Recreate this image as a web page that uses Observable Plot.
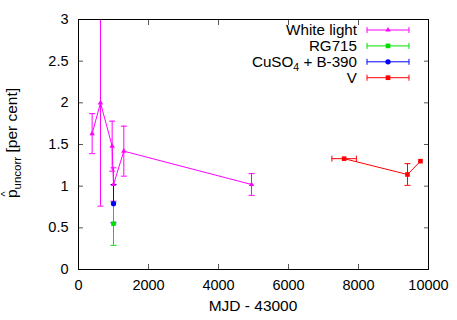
<!DOCTYPE html>
<html><head>
<meta charset="utf-8">
<script src="https://cdn.jsdelivr.net/npm/d3@7"></script>
<script src="https://cdn.jsdelivr.net/npm/@observablehq/plot@0.6"></script>
<style>
body{margin:0;background:#fff}
svg{font-family:"Liberation Sans",Arial,Helvetica,sans-serif}
</style>
</head><body><div id="chart"></div>
<script>
// White light
const whiteX = [390, 628, 962, 1000, 1295, 4943];
const whiteY = [1.63, 2.00, 1.48, 1.02, 1.42, 1.02];
const whiteErr = [0.24, 1.24, 0.30, 0.20, 0.30, 0.13];
// RG715
const rgX = [1000];
const rgY = [0.55];
const rgErr = [0.26];
// CuSO4 + B-390
const cuX = [1000];
const cuY = [0.79];
const cuErr = [0.23];
// V
const vX = [7590, 9400, 9770];
const vY = [1.33, 1.14, 1.30];
const vXErr = [350, 0, 0];
const vYErr = [0, 0.13, 0];

const xTicks = [0, 2000, 4000, 6000, 8000, 10000];
const yTicks = [0, 0.5, 1, 1.5, 2, 2.5, 3];

const MAG = "#ff00ff", GRN = "#00e000", BLU = "#0000ff", RED = "#ff0000";

const rows = (xs, ys, ye, xe) => xs.map((x, i) => ({x, y: ys[i], ey: ye ? ye[i] : 0, ex: xe ? xe[i] : 0}));
const white = rows(whiteX, whiteY, whiteErr);
const rg = rows(rgX, rgY, rgErr);
const cu = rows(cuX, cuY, cuErr);
const vv = rows(vX, vY, vYErr, vXErr);

const hCap = {draw(ctx) { ctx.moveTo(-3, 0); ctx.lineTo(3, 0); }};
const vCap = {draw(ctx) { ctx.moveTo(0, -3); ctx.lineTo(0, 3); }};

function errMarks(data, color) {
  const ye = data.filter(d => d.ey > 0);
  const xe = data.filter(d => d.ex > 0);
  return [
    Plot.ruleX(ye, {x: "x", y1: d => d.y - d.ey, y2: d => d.y + d.ey, stroke: color, strokeWidth: 1, clip: true}),
    Plot.dot(ye, {x: "x", y: d => d.y - d.ey, symbol: hCap, stroke: color, fill: "none", strokeWidth: 1, clip: true}),
    Plot.dot(ye, {x: "x", y: d => d.y + d.ey, symbol: hCap, stroke: color, fill: "none", strokeWidth: 1, clip: true}),
    Plot.ruleY(xe, {y: "y", x1: d => d.x - d.ex, x2: d => d.x + d.ex, stroke: color, strokeWidth: 1, clip: true}),
    Plot.dot(xe, {x: d => d.x - d.ex, y: "y", symbol: vCap, stroke: color, fill: "none", strokeWidth: 1, clip: true}),
    Plot.dot(xe, {x: d => d.x + d.ex, y: "y", symbol: vCap, stroke: color, fill: "none", strokeWidth: 1, clip: true})
  ];
}

const plot = Plot.plot({
  width: 457,
  height: 320,
  marginLeft: 78,
  marginRight: 29,
  marginTop: 19,
  marginBottom: 51,
  style: {fontSize: "14.5px", fontFamily: "Liberation Sans, Arial, sans-serif", background: "#fff", color: "#000"},
  x: {domain: [0, 10000]},
  y: {domain: [0, 3]},
  marks: [
    Plot.line(white, {x: "x", y: "y", stroke: MAG, strokeWidth: 1, clip: true}),
    Plot.line(vv, {x: "x", y: "y", stroke: RED, strokeWidth: 1, clip: true}),
    ...errMarks(white, MAG),
    ...errMarks(cu, BLU),
    ...errMarks(rg, GRN),
    ...errMarks(vv, RED),
    Plot.dot(white, {x: "x", y: "y", symbol: "triangle", r: 2, fill: MAG}),
    Plot.dot(cu, {x: "x", y: "y", symbol: "circle", r: 2.6, fill: BLU}),
    Plot.dot(rg, {x: "x", y: "y", symbol: "square", r: 2.6, fill: GRN}),
    Plot.dot(vv, {x: "x", y: "y", symbol: "square", r: 2.6, fill: RED}),
    Plot.axisX({ticks: xTicks, tickSize: 0, tickPadding: 10, label: null, fontSize: 14.5, tickFormat: d => String(d)}),
    Plot.axisY({ticks: yTicks, tickSize: 0, tickPadding: 10, label: null, fontSize: 14.5, tickFormat: d => String(d)}),
    Plot.axisX({ticks: xTicks, anchor: "bottom", tickSize: -5, tickFormat: () => "", label: null, stroke: "#555"}),
    Plot.axisX({ticks: xTicks, anchor: "top", tickSize: -5, tickFormat: () => "", label: null, stroke: "#555"}),
    Plot.axisY({ticks: yTicks, anchor: "left", tickSize: -5, tickFormat: () => "", label: null, stroke: "#555"}),
    Plot.axisY({ticks: yTicks, anchor: "right", tickSize: -5, tickFormat: () => "", label: null, stroke: "#555"}),
    Plot.frame({stroke: "#000", strokeWidth: 1})
  ]
});

const svg = d3.select(plot);
// x label
svg.append("text").attr("x", 253).attr("y", 311).attr("text-anchor", "middle")
  .attr("font-size", 15.5).attr("fill", "#000").text("MJD - 43000");
// y label
const yl = svg.append("text").attr("transform", "translate(17,143) rotate(-90)")
  .attr("text-anchor", "middle").attr("font-size", 15.5).attr("fill", "#000");
yl.append("tspan").text("p");
yl.append("tspan").attr("font-size", 11.5).attr("dy", 4).text("uncorr");
yl.append("tspan").attr("dy", -4).text(" [per cent]");
// hat over p
svg.append("text").attr("transform", "translate(9,194) rotate(-90)")
  .attr("text-anchor", "middle").attr("font-size", 11).attr("fill", "#000").text("^");

// legend
const legNames = ["White light", "RG715", "CuSO4 + B-390", "V"];
const legColors = [MAG, GRN, BLU, RED];
const legSym = ["triangle", "square", "circle", "square"];
legNames.forEach((name, i) => {
  const y = 30 + i * 15.9;
  const t = svg.append("text").attr("x", 357).attr("y", y + 5).attr("text-anchor", "end")
    .attr("font-size", 15.2).attr("fill", "#000");
  if (name.startsWith("CuSO4")) {
    t.append("tspan").text("CuSO");
    t.append("tspan").attr("font-size", 10.5).attr("dy", 4).text("4");
    t.append("tspan").attr("dy", -4).text(" + B-390");
  } else t.text(name);
  const g = svg.append("g").attr("stroke", legColors[i]).attr("fill", "none");
  g.append("line").attr("x1", 367).attr("x2", 409).attr("y1", y).attr("y2", y);
  g.append("line").attr("x1", 367).attr("x2", 367).attr("y1", y - 3).attr("y2", y + 3);
  g.append("line").attr("x1", 409).attr("x2", 409).attr("y1", y - 3).attr("y2", y + 3);
  svg.append("path").attr("transform", `translate(388,${y})`)
    .attr("d", d3.symbol(legSym[i] === "triangle" ? d3.symbolTriangle : legSym[i] === "circle" ? d3.symbolCircle : d3.symbolSquare, legSym[i] === "triangle" ? 12 : 22)())
    .attr("fill", legColors[i]);
});

document.getElementById("chart").appendChild(plot);
</script>
</body></html>
